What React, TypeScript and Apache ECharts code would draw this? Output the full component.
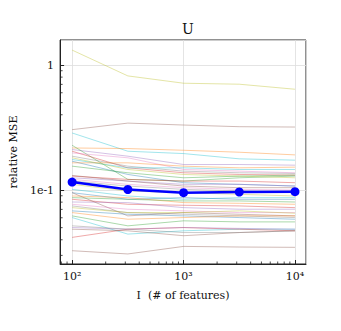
import React, { useEffect, useRef } from "react";
import * as echarts from "echarts";

const featureCounts = [100, 316.2, 1000, 3162, 10000];

const meanError = [0.1158, 0.101, 0.0952, 0.0964, 0.097];

const runErrors: number[][] = [
  [1.316, 0.818, 0.715, 0.702, 0.64],
  [0.304, 0.343, 0.331, 0.321, 0.319],
  [0.286, 0.2043, 0.1957, 0.1776, 0.1733],
  [0.217, 0.2146, 0.208, 0.2006, 0.191],
  [0.2107, 0.1865, 0.16, 0.16, 0.158],
  [0.228, 0.1216, 0.1179, 0.1253, 0.1292],
  [0.2043, 0.1505, 0.1374, 0.1332, 0.1316],
  [0.198, 0.181, 0.146, 0.1416, 0.1374],
  [0.1865, 0.1552, 0.1416, 0.1374, 0.1357],
  [0.181, 0.146, 0.1332, 0.1292, 0.1253],
  [0.1754, 0.1505, 0.1505, 0.146, 0.146],
  [0.1701, 0.1332, 0.1144, 0.111, 0.1076],
  [0.165, 0.165, 0.1552, 0.1505, 0.1524],
  [0.1552, 0.1374, 0.1253, 0.1292, 0.1316],
  [0.1292, 0.1216, 0.1179, 0.1179, 0.1144],
  [0.1253, 0.1179, 0.111, 0.111, 0.1076],
  [0.1308, 0.1179, 0.1076, 0.1044, 0.1044],
  [0.1216, 0.111, 0.1044, 0.1012, 0.1],
  [0.1179, 0.1076, 0.1012, 0.0982, 0.0952],
  [0.111, 0.0982, 0.0952, 0.0924, 0.0896],
  [0.1012, 0.0896, 0.0843, 0.0869, 0.0869],
  [0.0952, 0.0843, 0.0869, 0.0843, 0.0843],
  [0.0896, 0.0869, 0.0793, 0.0783, 0.0769],
  [0.0869, 0.0843, 0.0818, 0.0818, 0.0802],
  [0.0843, 0.0769, 0.0755, 0.0746, 0.0723],
  [0.0802, 0.0793, 0.0723, 0.0702, 0.0702],
  [0.0952, 0.0621, 0.066, 0.064, 0.0621],
  [0.0769, 0.0702, 0.0681, 0.066, 0.066],
  [0.0746, 0.066, 0.064, 0.0621, 0.0602],
  [0.0723, 0.066, 0.066, 0.0681, 0.0652],
  [0.0602, 0.0444, 0.0472, 0.0486, 0.0486],
  [0.0681, 0.064, 0.0621, 0.0602, 0.0584],
  [0.066, 0.0584, 0.0602, 0.0621, 0.0621],
  [0.0621, 0.0517, 0.0567, 0.0556, 0.0556],
  [0.0418, 0.0486, 0.0501, 0.0486, 0.0472],
  [0.0501, 0.0486, 0.0501, 0.0493, 0.0486],
  [0.0486, 0.0472, 0.0431, 0.0457, 0.0472],
  [0.0517, 0.0486, 0.0457, 0.0457, 0.0472],
  [0.0327, 0.0308, 0.0354, 0.035, 0.0348],
];

const runColors = [
  "#bcbd22", "#8c564b", "#17becf", "#ff7f0e", "#9467bd", "#2ca02c", "#d62728", "#e377c2", "#7f7f7f", "#bcbd22",
  "#17becf", "#1f77b4", "#ff7f0e", "#2ca02c", "#d62728", "#9467bd", "#8c564b", "#e377c2", "#7f7f7f", "#bcbd22",
  "#17becf", "#1f77b4", "#ff7f0e", "#2ca02c", "#d62728", "#9467bd", "#8c564b", "#e377c2", "#7f7f7f", "#bcbd22",
  "#17becf", "#1f77b4", "#ff7f0e", "#2ca02c", "#d62728", "#9467bd", "#8c564b", "#7f7f7f", "#8c564b",
];

const X_MIN = 78;
const X_MAX = 12560;
const Y_MIN = 0.0256;
const Y_MAX = 1.585;

const xMinorTicks = [80, 90, 200, 300, 400, 500, 600, 700, 800, 900, 2000, 3000, 4000, 5000, 6000, 7000, 8000, 9000];
const yMinorTicks = [0.03, 0.04, 0.05, 0.06, 0.07, 0.08, 0.09, 0.2, 0.3, 0.4, 0.5, 0.6, 0.7, 0.8, 0.9];

const FONT = "DejaVu Serif";
const SUP: Record<number, string> = { 0: "⁰", 1: "¹", 2: "²", 3: "³", 4: "⁴", 5: "⁵" };

export default function App() {
  const ref = useRef<HTMLDivElement>(null);
  useEffect(() => {
    if (!ref.current) return;
    const chart = echarts.init(ref.current, undefined, { renderer: "svg" });
    const thinSeries = runErrors.map((vals, i) => ({
      type: "line",
      data: vals.map((v, j) => [featureCounts[j], v]),
      showSymbol: false,
      symbol: "none",
      silent: true,
      lineStyle: { color: runColors[i], width: 0.8, opacity: 0.5 },
      z: 2,
    }));
    chart.setOption({
      animation: false,
      title: {
        text: "U",
        left: 183,
        textAlign: "center",
        top: 17,
        textStyle: { fontFamily: FONT, fontSize: 14, fontWeight: "normal", color: "#111" },
      },
      grid: {
        left: 60,
        top: 40,
        width: 246,
        height: 224,
        show: true,
        borderColor: "#222",
        borderWidth: 1,
        backgroundColor: "transparent",
      },
      xAxis: {
        type: "log",
        logBase: 10,
        min: X_MIN,
        max: X_MAX,
        name: "I  (# of features)",
        nameLocation: "middle",
        nameGap: 26,
        nameTextStyle: { fontFamily: FONT, fontSize: 11, color: "#111" },
        axisLine: { show: true, lineStyle: { color: "#222", width: 1 } },
        axisTick: { show: true, inside: true, length: 4, lineStyle: { color: "#222", width: 1 } },
        axisLabel: {
          showMinLabel: false,
          showMaxLabel: false,
          margin: 7,
          fontFamily: FONT,
          fontSize: 11,
          color: "#111",
          formatter: (v: number) => "10" + SUP[Math.round(Math.log10(v))],
        },
        splitLine: { show: true, lineStyle: { color: "#dddddd", width: 0.8 } },
      },
      yAxis: {
        type: "log",
        logBase: 10,
        min: Y_MIN,
        max: Y_MAX,
        name: "relative MSE",
        nameLocation: "middle",
        nameGap: 36,
        nameTextStyle: { fontFamily: FONT, fontSize: 11, color: "#111" },
        axisLine: { show: true, lineStyle: { color: "#222", width: 1 } },
        axisTick: { show: true, inside: true, length: 4, lineStyle: { color: "#222", width: 1 } },
        axisLabel: {
          showMinLabel: false,
          showMaxLabel: false,
          margin: 6,
          fontFamily: FONT,
          fontSize: 11,
          color: "#111",
          formatter: (v: number) => {
            const e = Math.round(Math.log10(v));
            return e === 0 ? "1" : "1e" + e;
          },
        },
        splitLine: { show: true, lineStyle: { color: "#dddddd", width: 0.8 } },
      },
      series: [
        ...thinSeries,
        {
          type: "line",
          data: meanError.map((v, j) => [featureCounts[j], v]),
          symbol: "circle",
          symbolSize: 9,
          silent: true,
          itemStyle: { color: "#0000ff" },
          lineStyle: { color: "#0000ff", width: 2.5 },
          z: 5,
        },
        {
          type: "custom",
          silent: true,
          clip: false,
          data: xMinorTicks.map((v) => [v, Y_MIN]),
          renderItem: (_p: any, api: any) => {
            const pt = api.coord([api.value(0), api.value(1)]);
            return {
              type: "line",
              shape: { x1: pt[0], y1: pt[1], x2: pt[0], y2: pt[1] - 2.5 },
              style: { stroke: "#222", lineWidth: 0.8 },
            };
          },
          z: 6,
        },
        {
          type: "custom",
          silent: true,
          clip: false,
          data: yMinorTicks.map((v) => [X_MIN, v]),
          renderItem: (_p: any, api: any) => {
            const pt = api.coord([api.value(0), api.value(1)]);
            return {
              type: "line",
              shape: { x1: pt[0], y1: pt[1], x2: pt[0] + 2.5, y2: pt[1] },
              style: { stroke: "#222", lineWidth: 0.8 },
            };
          },
          z: 6,
        },
      ],
    });
    return () => chart.dispose();
  }, []);
  return (
    <div
      ref={ref}
      style={{ position: "absolute", left: 0, top: 0, width: 341, height: 331, background: "#fff" }}
    />
  );
}
